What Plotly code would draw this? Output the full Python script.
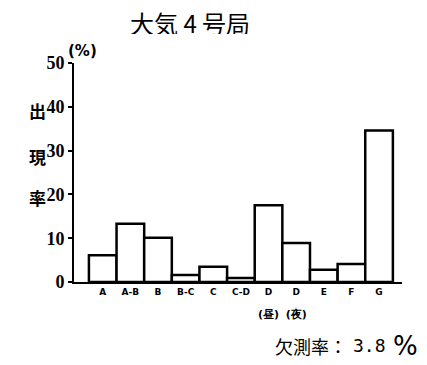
import plotly.graph_objects as go

categories = ["A", "A-B", "B", "B-C", "C", "C-D",
              "D<br><br><span style='font-size:11px'>(昼)</span>",
              "D<br><br><span style='font-size:11px'>(夜)</span>", "E", "F", "G"]
values = [6.1, 13.3, 10.1, 1.6, 3.5, 0.9, 17.5, 8.9, 2.8, 4.1, 34.6]
y_ticks = [0, 10, 20, 30, 40, 50]

positions = list(range(len(categories)))

fig = go.Figure()
fig.add_trace(go.Bar(
    x=positions, y=values, width=1.0,
    marker=dict(color="white", line=dict(color="black", width=2.5)),
))

cjk = "Noto Sans CJK JP"
annotations = [
    dict(text="大気 4 号局", x=0.355, y=1.187, xanchor="center", yanchor="middle", height=24,
         font=dict(family=cjk, size=24, color="black")),
    dict(text="(%)", x=-0.025, y=1.055, xanchor="left", yanchor="middle",
         font=dict(family="DejaVu Sans", size=15, color="black", weight="bold")),
    dict(text="欠測率：", x=0.607, y=-0.29, xanchor="left", yanchor="middle",
         font=dict(family=cjk, size=18, color="black")),
    dict(text="3.8", x=0.843, y=-0.29, xanchor="left", yanchor="middle",
         font=dict(family="DejaVu Sans Mono", size=18, color="black")),
    dict(text="%", x=0.965, y=-0.29, xanchor="left", yanchor="middle",
         font=dict(family="DejaVu Sans", size=26, color="black")),
]
for ch, yy in zip(["出", "現", "率"], [0.785, 0.571, 0.388]):
    annotations.append(dict(text=ch, x=-0.11, y=yy, xanchor="center", yanchor="middle",
                            font=dict(family=cjk, size=17, color="black", weight="bold")))
for a in annotations:
    a.update(xref="paper", yref="paper", showarrow=False)

fig.update_layout(
    width=419, height=357,
    margin=dict(l=66, r=25, t=55, b=83),
    paper_bgcolor="white", plot_bgcolor="white",
    showlegend=False,
    xaxis=dict(
        range=[-1.04, 10.83], tickmode="array", tickvals=positions, ticktext=categories,
        showgrid=False, zeroline=False, showline=True, linecolor="black", linewidth=2,
        ticks="", tickfont=dict(family="DejaVu Sans", size=9, color="black", weight="bold"),
        fixedrange=True,
    ),
    yaxis=dict(
        range=[0, 50], tickmode="array", tickvals=y_ticks,
        showgrid=False, zeroline=False, showline=True, linecolor="black", linewidth=2,
        ticks="outside", ticklen=4, tickwidth=2, tickcolor="black",
        tickfont=dict(family="Liberation Sans Narrow", size=18, color="black", weight="bold"),
        fixedrange=True,
    ),
    annotations=annotations,
)

fig.write_html("out.html")
